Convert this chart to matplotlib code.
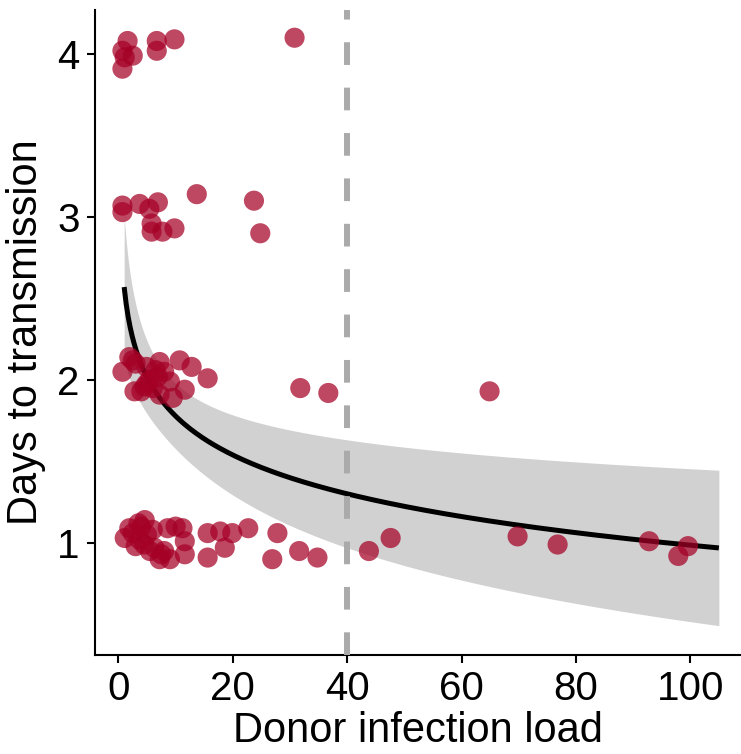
import numpy as np
import matplotlib
matplotlib.use("Agg")
import matplotlib.pyplot as plt

plt.rcParams['font.family'] = ['Liberation Sans', 'DejaVu Sans']

# observed points (donor load, days to transmission, jittered)
load_4 = [1.6, 0.7, 2.5, 1.1, 0.7, 6.7, 6.7, 9.8, 30.8]
days_4 = [4.08, 4.02, 3.99, 3.98, 3.91, 4.08, 4.02, 4.09, 4.10]

load_3 = [0.7, 0.7, 3.7, 5.4, 6.9, 5.8, 5.8, 7.7, 9.8, 13.7, 23.7, 24.8]
days_3 = [3.07, 3.03, 3.08, 3.05, 3.09, 2.96, 2.91, 2.91, 2.93, 3.14, 3.10, 2.90]

load_2 = [1.9, 0.7, 2.8, 4.9, 7.2, 10.7, 12.8, 15.6, 4.6, 7.2, 9.5, 11.6,
          6.9, 9.0, 31.8, 36.7, 64.9, 3.0, 5.5, 4.0, 8.0, 6.0, 2.5, 5.0, 6.5]
days_2 = [2.14, 2.05, 1.93, 2.08, 2.11, 2.12, 2.08, 2.01, 1.96, 1.91, 1.89, 1.94,
          2.02, 1.99, 1.95, 1.92, 1.93, 2.10, 2.00, 1.93, 2.05, 1.95, 2.12, 1.98, 2.06]

load_1 = [1.1, 1.9, 4.6, 3.7, 6.3, 7.2, 8.6, 11.2, 11.6, 11.6, 9.0, 15.6, 15.6,
          17.8, 18.6, 19.9, 22.7, 27.8, 26.9, 31.6, 34.8, 43.8, 47.6, 69.8,
          76.8, 92.8, 97.9, 99.6, 2.5, 3.0, 4.0, 5.0, 5.5, 6.0, 4.5, 7.5, 3.5,
          10.0, 8.0]
days_1 = [1.03, 1.09, 1.14, 1.02, 0.97, 0.90, 1.09, 1.09, 1.01, 0.93, 0.90, 1.06,
          0.91, 1.07, 0.97, 1.06, 1.09, 1.06, 0.90, 0.95, 0.91, 0.95, 1.03, 1.04,
          0.99, 1.01, 0.92, 0.98, 1.06, 0.98, 1.10, 1.05, 0.95, 1.08, 0.99, 0.93,
          1.12, 1.10, 0.95]

# fitted model: days = a - b*ln(load), se grows away from m
fit_a, fit_b = 2.57, 0.344
se0, se1, se_m = 0.20, 0.175, 2.18
load_range = (1.0, 105.0)
threshold = 40

x = np.concatenate([load_1, load_2, load_3, load_4])
y = np.concatenate([days_1, days_2, days_3, days_4])

xs = np.linspace(*load_range, 300)
mu = fit_a - fit_b * np.log(xs)
se = np.sqrt(se0 ** 2 + (se1 * (np.log(xs) - se_m)) ** 2)

fig = plt.figure(figsize=(7.41, 7.54), dpi=100)
ax = fig.add_axes([0.1282, 0.1313, 0.8705, 0.8554])

ax.fill_between(xs, mu - se, mu + se, color='#d1d1d1', lw=0, zorder=1)
ax.plot(xs, mu, color='black', lw=3.6, zorder=2, solid_capstyle='butt')
ax.axvline(threshold, color='#aaaaaa', lw=4.3, dashes=(3.8, 3.8), zorder=3)
ax.scatter(x, y, s=210, color='#a50026', alpha=0.72, edgecolors='none', zorder=4)

ax.set_xlim(-4.1, 108.7)
ax.set_ylim(0.312, 4.27)
ax.set_xticks([0, 20, 40, 60, 80, 100])
ax.set_yticks([1, 2, 3, 4])

for s in ['top', 'right']:
    ax.spines[s].set_visible(False)
for s in ['left', 'bottom']:
    ax.spines[s].set_linewidth(1.5)
ax.tick_params(width=1.5, length=6, labelsize=29, colors='black', pad=5)

ax.set_xlabel('Donor infection load', fontsize=30, labelpad=2)
ax.set_ylabel('Days to transmission', fontsize=30, labelpad=8)

fig.savefig('out.png', dpi=100)
